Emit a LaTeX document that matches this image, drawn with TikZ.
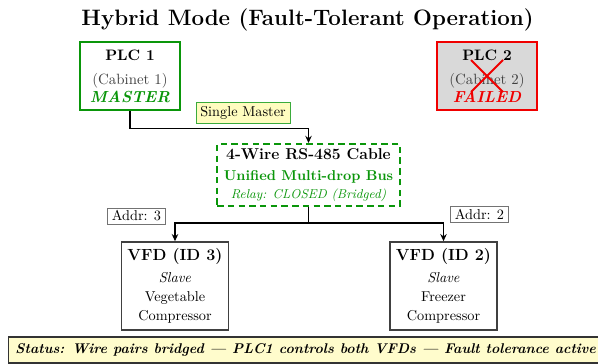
\documentclass[tikz,border=0pt]{standalone}
\usetikzlibrary{arrows.meta,calc}
\definecolor{okgreen}{RGB}{10,150,10}
\definecolor{failred}{RGB}{240,0,0}
\tikzset{
  plcbox/.style={line width=1.6pt, minimum width=70pt, minimum height=47.6pt, align=center, inner sep=0pt},
  cablebox/.style={draw=okgreen, line width=1.4pt, dash pattern=on 4.5pt off 3pt, minimum width=128pt, minimum height=43.4pt, align=center, inner sep=0pt, fill=white},
  vfdbox/.style={draw=black!75, line width=1.1pt, minimum width=75pt, minimum height=61.6pt, align=center, inner sep=0pt, fill=white},
  addrbox/.style={draw=black!55, line width=0.5pt, fill=white, inner xsep=3pt, inner ysep=2pt},
  tagbox/.style={draw=okgreen!80, line width=0.5pt, fill=yellow!25, inner sep=3pt},
  statusbox/.style={draw=black!80, line width=0.8pt, fill=yellow!20, inner xsep=2.8pt, minimum height=18.2pt},
  conn/.style={draw=black, line width=0.9pt, -{Stealth[length=5pt,width=4.5pt]}},
  crossline/.style={draw=failred, line width=1.4pt}
}
\begin{document}
\begin{tikzpicture}[x=0.7pt,y=-0.7pt]
\useasboundingbox (0,0) rectangle (598,363);
\node[font=\fontsize{15.6}{19}\selectfont\bfseries] (title) at (307.5,19.5) {Hybrid Mode (Fault-Tolerant Operation)};
\node[plcbox, draw=okgreen, fill=white] (plc1) at (130,76)
  {{\fontsize{10.6}{12}\selectfont\bfseries PLC 1}\\[5pt]{\fontsize{10.4}{12}\selectfont\color{black!75}(Cabinet 1)}\\[0.6pt]{\fontsize{11.2}{12}\selectfont\color{okgreen}\bfseries\itshape MASTER}};
\node[plcbox, draw=failred, fill=gray!30] (plc2) at (487,76)
  {{\fontsize{10.6}{12}\selectfont\bfseries PLC 2}\\[5pt]{\fontsize{10.4}{12}\selectfont\color{black!75}(Cabinet 2)}\\[0.6pt]{\fontsize{11.2}{12}\selectfont\color{failred}\bfseries\itshape FAILED}};
\draw[crossline] ($(plc2)+(-16,-16)$) -- ($(plc2)+(16,16)$);
\draw[crossline] ($(plc2)+(16,-16)$) -- ($(plc2)+(-16,16)$);
\node[cablebox] (cable) at (308.5,175)
  {{\fontsize{11}{12}\selectfont\bfseries 4-Wire RS-485 Cable}\\[2.5pt]{\color{okgreen}\bfseries Unified Multi-drop Bus}\\[0.6pt]{\color{okgreen}\small\itshape Relay: CLOSED (Bridged)}};
\node[vfdbox] (vfd3) at (175,286)
  {{\fontsize{11.3}{12}\selectfont\bfseries VFD (ID 3)}\\[3.8pt]\textit{Slave}\\[1.3pt]Vegetable\\[1.3pt]Compressor};
\node[vfdbox] (vfd2) at (443.5,286)
  {{\fontsize{11.3}{12}\selectfont\bfseries VFD (ID 2)}\\[3.8pt]\textit{Slave}\\[1.3pt]Freezer\\[1.3pt]Compressor};
\draw[conn] (plc1.south) -- ++(0,17.5) -| (cable.north);
\draw[conn] (cable.south) -- ++(0,16) -| (vfd3.north);
\draw[conn] (cable.south) -- ++(0,16) -| (vfd2.north);
\node[tagbox] (tag) at (243,113) {Single Master};
\node[addrbox] (addr3) at (136.5,216) {Addr: 3};
\node[addrbox] (addr2) at (479.5,214) {Addr: 2};
\node[statusbox, anchor=west, minimum width=416pt] (status) at (8,350)
  {\fontsize{9.85}{11}\selectfont\bfseries\itshape Status: Wire pairs bridged --- PLC1 controls both VFDs --- Fault tolerance active};
\end{tikzpicture}
\end{document}
